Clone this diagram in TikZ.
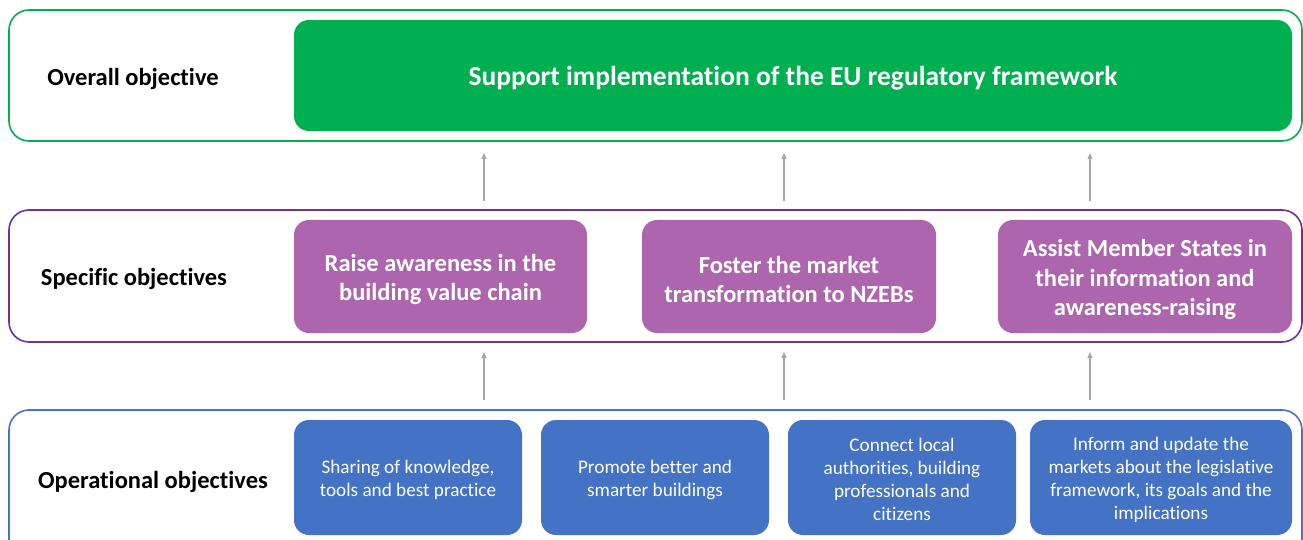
\documentclass[tikz,border=0pt]{standalone}
\usepackage{fontspec}
\setmainfont{Carlito}[Ligatures=CommonOff]
\usetikzlibrary{arrows.meta}
\definecolor{cgreen}{HTML}{00B050}
\definecolor{cpurpleline}{HTML}{7030A0}
\definecolor{cpurple}{HTML}{AD66AE}
\definecolor{cblue}{HTML}{4472C4}
\definecolor{cgray}{HTML}{A6A6A6}
\begin{document}
\begin{tikzpicture}[x=1pt,y=1pt,
  outerbox/.style={draw=#1, line width=1.6pt, rounded corners=20pt, fill=white},
  levellabel/.style={font=\fontsize{24.5}{28}\selectfont\bfseries, text=black},
  specbox/.style={font=\fontsize{24.5}{29.5}\selectfont\bfseries, text=white, align=center},
  opbox/.style={font=\fontsize{19.2}{23}\selectfont, text=white, align=center},
  uparrow/.style={draw=cgray, line width=1.3pt, -{Triangle[length=6pt,width=5pt]}}
]
\useasboundingbox (0,0) rectangle (1303,539);
\clip (0,0) rectangle (1303,539);

% outer frames
\draw[outerbox=cgreen] (9,398) rectangle (1302,529);
\draw[outerbox=cpurpleline] (9,197) rectangle (1302,329);
\draw[outerbox=cblue] (9,-20) rectangle (1302,129);

% level labels
\node[levellabel] (lo) at (133,460) {Overall objective};
\node[levellabel] (ls) at (134,260) {Specific objectives};
\node[levellabel] (lp) at (153,57) {Operational objectives};

% overall objective
\fill[cgreen, rounded corners=15pt] (294,408) rectangle (1292,519);
\node[font=\fontsize{27.5}{32}\selectfont\bfseries, text=white] (g) at (793,460.5) {Support implementation of the EU regulatory framework};

% specific objectives
\fill[cpurple, rounded corners=15pt] (294,206) rectangle (587,319);
\fill[cpurple, rounded corners=15pt] (642,206) rectangle (936,319);
\fill[cpurple, rounded corners=15pt] (998,206) rectangle (1292,319);
\node[specbox] (s1) at (440.5,259.5) {Raise awareness in the\\building value chain};
\node[specbox] (s2) at (789,259.5) {Foster the market\\transformation to NZEBs};
\node[specbox] (s3) at (1145,259.5) {Assist Member States in\\their information and\\awareness-raising};

% operational objectives
\fill[cblue, rounded corners=15pt] (294,4) rectangle (522,119);
\fill[cblue, rounded corners=15pt] (541,4) rectangle (769,119);
\fill[cblue, rounded corners=15pt] (788,4) rectangle (1016,119);
\fill[cblue, rounded corners=15pt] (1030,4) rectangle (1292,119);
\node[opbox] (o1) at (408,59.5) {Sharing of knowledge,\\tools and best practice};
\node[opbox] (o2) at (655,59.5) {Promote better and\\smarter buildings};
\node[opbox] (o3) at (902,59.5) {Connect local\\authorities, building\\professionals and\\citizens};
\node[opbox] (o4) at (1161,59.5) {Inform and update the\\markets about the legislative\\framework, its goals and the\\implications};

% arrows
\coordinate (a1s) at (484,338); \coordinate (a1e) at (484,386);
\coordinate (a2s) at (784,338); \coordinate (a2e) at (784,386);
\coordinate (a3s) at (1090,338); \coordinate (a3e) at (1090,386);
\coordinate (b1s) at (484,139); \coordinate (b1e) at (484,187);
\coordinate (b2s) at (784,139); \coordinate (b2e) at (784,187);
\coordinate (b3s) at (1090,139); \coordinate (b3e) at (1090,187);
\draw[uparrow] (a1s) -- (a1e);
\draw[uparrow] (a2s) -- (a2e);
\draw[uparrow] (a3s) -- (a3e);
\draw[uparrow] (b1s) -- (b1e);
\draw[uparrow] (b2s) -- (b2e);
\draw[uparrow] (b3s) -- (b3e);
\end{tikzpicture}
\end{document}
